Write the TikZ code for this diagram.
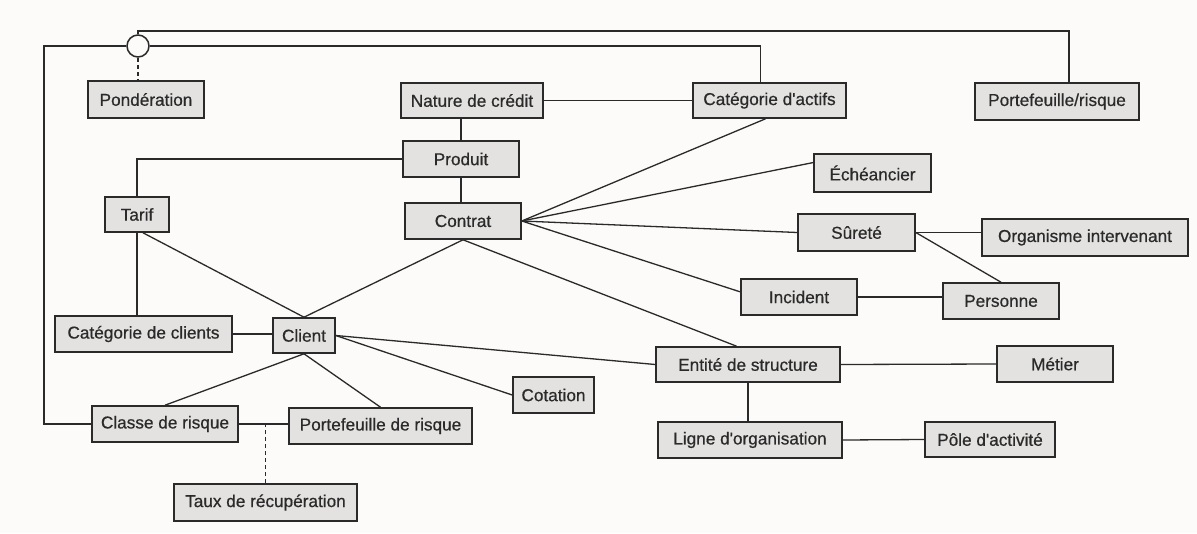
\documentclass[tikz,border=0pt]{standalone}
\usepackage{fontspec}
\setmainfont{Liberation Sans}
\newfontfamily\boxfont[FakeBold=0.6]{Liberation Sans}
\usetikzlibrary{calc}
\definecolor{bg}{HTML}{FCFBF9}
\definecolor{boxfill}{HTML}{E4E2E0}
\definecolor{ink}{HTML}{2A2A2A}
\begin{document}
\begin{tikzpicture}[x=1pt,y=-1pt,
  ent/.style={draw=ink, fill=boxfill, line width=1.6pt, inner sep=0pt,
    font=\boxfont\fontsize{17.2}{20}\selectfont, text=ink},
  link/.style={draw=ink, line width=1.3pt},
  dlink/.style={link, dash pattern=on 4pt off 3pt}]
\fill[bg] (0,0) rectangle (1197,533);
\useasboundingbox (0,0) rectangle (1197,533);

% entities
\node[ent, minimum width=116pt, minimum height=37pt] (pond) at (146,99.5) {Pondération};
\node[ent, minimum width=142pt, minimum height=35pt] (nat) at (472,100.5) {Nature de crédit};
\node[ent, minimum width=153pt, minimum height=35pt] (cat) at (769.5,100.5) {Catégorie d'actifs};
\node[ent, minimum width=164pt, minimum height=37pt] (port2) at (1057,101.5) {Portefeuille/risque};
\node[ent, minimum width=116pt, minimum height=36pt] (prod) at (461,159) {Produit};
\node[ent, minimum width=64pt, minimum height=35pt] (tarif) at (137,214.5) {Tarif};
\node[ent, minimum width=116pt, minimum height=36pt] (contrat) at (463,221) {Contrat};
\node[ent, minimum width=117pt, minimum height=38pt] (eche) at (872.5,173) {Échéancier};
\node[ent, minimum width=117pt, minimum height=37pt] (surete) at (856.5,232.5) {Sûreté};
\node[ent, minimum width=206pt, minimum height=37pt] (org) at (1085,237.5) {Organisme intervenant};
\node[ent, minimum width=116pt, minimum height=36pt] (incident) at (799,297) {Incident};
\node[ent, minimum width=116pt, minimum height=36pt] (personne) at (1001,301) {Personne};
\node[ent, minimum width=177pt, minimum height=36pt] (catcl) at (143.5,334) {Catégorie de clients};
\node[ent, minimum width=62pt, minimum height=35pt] (client) at (304,335.5) {Client};
\node[ent, minimum width=184pt, minimum height=35pt] (entite) at (748,364.5) {Entité de structure};
\node[ent, minimum width=116pt, minimum height=36pt] (metier) at (1055,364) {Métier};
\node[ent, minimum width=81pt, minimum height=36pt] (cotation) at (553.5,395) {Cotation};
\node[ent, minimum width=146pt, minimum height=36pt] (classe) at (165,424) {Classe de risque};
\node[ent, minimum width=183pt, minimum height=36pt] (portr) at (380.5,426) {Portefeuille de risque};
\node[ent, minimum width=184pt, minimum height=36pt] (ligne) at (750,440) {Ligne d'organisation};
\node[ent, minimum width=130pt, minimum height=35pt] (pole) at (990,439.5) {Pôle d'activité};
\node[ent, minimum width=183pt, minimum height=37pt] (taux) at (265.5,502.5) {Taux de récupération};
\node[circle, draw=ink, fill=bg, line width=1.5pt, minimum size=22pt, inner sep=0pt] (circ) at (138,46) {};

% helper coordinates
\coordinate (topy) at (0,31);
\coordinate (lcorner) at (44,46);

% connectors from the circle
\draw[link] (circ.west) -- (lcorner) |- (classe.west);
\draw[link] (circ.north) -- (circ.north |- topy) -| ($(port2.north)+(12,0)$);
\draw[link] (circ.east) -| ($(cat.north)+(-9,0)$);
\draw[dlink] (circ.south) -- (circ.south |- pond.north);

% upper part
\draw[link] (nat.east) -- (cat.west);
\draw[link] (prod.north) -- (prod.north |- nat.south);
\draw[link] (prod.south) -- (prod.south |- contrat.north);
\draw[link] (prod.west) -| (tarif.north);
\draw[link] (tarif.south) -- (tarif.south |- catcl.north);
\draw[link] ($(tarif.south)+(6,0)$) -- (client.north);

% contract star
\draw[link] (contrat.east) -- ($(cat.south)+(-4,0)$);
\draw[link] (contrat.east) -- (eche.170);
\draw[link] (contrat.east) -- (surete.west);
\draw[link] (contrat.east) -- (incident.175);
\draw[link] (contrat.south) -- (entite.122);
\draw[link] (contrat.south) -- (client.north);

% client
\draw[link] (catcl.east) -- (catcl.east -| client.west);
\draw[link] (client.east) -- (entite.west);
\draw[link] (client.east) -- (cotation.west);
\draw[link] (client.south) -- (classe.north);
\draw[link] (client.south) -- (portr.north);
\draw[link] (classe.east) -- (classe.east -| portr.west);
\draw[dlink] (taux.north) -- (taux.north |- classe.east);

% right part
\draw[link] (surete.east) -- (surete.east -| org.west);
\draw[link] (surete.east) -- (personne.north);
\draw[link] (incident.east) -- (incident.east -| personne.west);
\draw[link] (entite.east) -- (metier.west);
\draw[link] (entite.south) -- (entite.south |- ligne.north);
\draw[link] (ligne.east) -- (pole.west);
\end{tikzpicture}
\end{document}
